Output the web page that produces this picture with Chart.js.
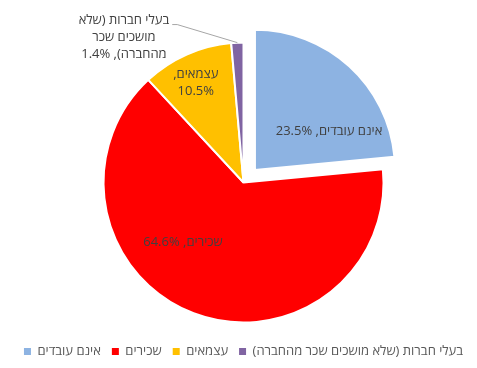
<!DOCTYPE html>
<html lang="he">
<head>
<meta charset="utf-8">
<script src="https://cdn.jsdelivr.net/npm/chart.js@4/dist/chart.umd.min.js"></script>
<style>
    html, body { margin: 0; padding: 0; background: #fff; }
    #wrap { width: 477px; height: 368px; position: relative; }
</style>
</head>
<body>
<div id="wrap"><canvas id="chartPie"></canvas></div>
<script>
    // Data
    const categories = ['אינם עובדים', 'שכירים', 'עצמאים', 'בעלי חברות (שלא מושכים שכר מהחברה)'];
    const shares = [23.5, 64.6, 10.5, 1.4];
    const sliceColors = ['#8db3e2', '#ff0000', '#ffc000', '#8064a2'];

    // Exploded slice offset (Chart.js moves an arc by offset / 4)
    const sliceOffsets = [68, 0, 0, 0];

    // Where each data label sits: turn (deg) from the slice mid-angle, distance as share of radius, wrap width
    const labelSpots = [
        { turn: 20.3, dist: 0.596, wrap: 200 },
        { turn: 24.3, dist: 0.609, wrap: 200 },
        { turn: -1.6, dist: 0.79, wrap: 60 },
        { turn: -37, dist: 1.342, wrap: 96, leader: true }
    ];

    const FONT = '"Open Sans", "Liberation Sans", "DejaVu Sans", sans-serif';

    function wrapWords(ctx, text, maxW) {
        const words = text.split(' ');
        const lines = [];
        let cur = '';
        words.forEach(w => {
            const test = cur ? cur + ' ' + w : w;
            if (cur && ctx.measureText(test).width > maxW) {
                lines.push(cur);
                cur = w;
            } else {
                cur = test;
            }
        });
        if (cur) lines.push(cur);
        return lines;
    }

    const sliceLabels = {
        id: 'sliceLabels',
        afterDatasetsDraw(chart) {
            const ctx = chart.ctx;
            const meta = chart.getDatasetMeta(0);
            const lineH = 17;
            ctx.save();
            ctx.font = '13px ' + FONT;
            ctx.direction = 'rtl';
            ctx.textAlign = 'center';
            ctx.textBaseline = 'middle';
            meta.data.forEach((arc, i) => {
                const spot = labelSpots[i];
                const p = arc.getProps(['x', 'y', 'startAngle', 'endAngle', 'outerRadius'], true);
                const mid = (p.startAngle + p.endAngle) / 2;
                const shift = sliceOffsets[i] / 4;
                const cx = p.x + Math.cos(mid) * shift;
                const cy = p.y + Math.sin(mid) * shift;
                const ang = mid + spot.turn * Math.PI / 180;
                const r = p.outerRadius * spot.dist;
                const lx = cx + Math.cos(ang) * r;
                const ly = cy + Math.sin(ang) * r;

                const text = categories[i] + ', ' + shares[i].toFixed(1) + '%';
                const lines = wrapWords(ctx, text, spot.wrap);
                const top = ly - (lines.length - 1) * lineH / 2;
                ctx.fillStyle = '#404040';
                lines.forEach((ln, k) => ctx.fillText(ln, lx, top + k * lineH));

                if (spot.leader) {
                    const w0 = ctx.measureText(lines[0]).width;
                    const sx = lx + w0 / 2 + 3;
                    const sy = top + 4;
                    const ex = cx + Math.cos(mid) * p.outerRadius;
                    const ey = cy + Math.sin(mid) * p.outerRadius;
                    ctx.strokeStyle = '#a6a6a6';
                    ctx.lineWidth = 1;
                    ctx.beginPath();
                    ctx.moveTo(sx, sy);
                    ctx.lineTo(sx + 5, sy);
                    ctx.lineTo(ex, ey);
                    ctx.stroke();
                }
            });
            ctx.restore();
        }
    };

    new Chart(document.getElementById('chartPie'), {
        type: 'pie',
        data: {
            labels: categories,
            datasets: [{
                data: shares,
                backgroundColor: sliceColors,
                borderColor: '#ffffff',
                borderWidth: 2,
                offset: sliceOffsets
            }]
        },
        options: {
            responsive: true,
            maintainAspectRatio: false,
            animation: false,
            radius: 140,
            layout: { padding: { top: 31, left: 10, right: 0, bottom: 0 } },
            plugins: {
                tooltip: { enabled: false },
                legend: {
                    position: 'bottom',
                    textDirection: 'rtl',
                    labels: {
                        color: '#595959',
                        font: { size: 13, family: FONT },
                        boxWidth: 7,
                        boxHeight: 7,
                        padding: 11,
                        generateLabels: function(chart) {
                            return Chart.overrides.pie.plugins.legend.labels.generateLabels(chart)
                                .map(item => Object.assign(item, { lineWidth: 0 }));
                        }
                    }
                }
            }
        },
        plugins: [sliceLabels]
    });
</script>
</body>
</html>
